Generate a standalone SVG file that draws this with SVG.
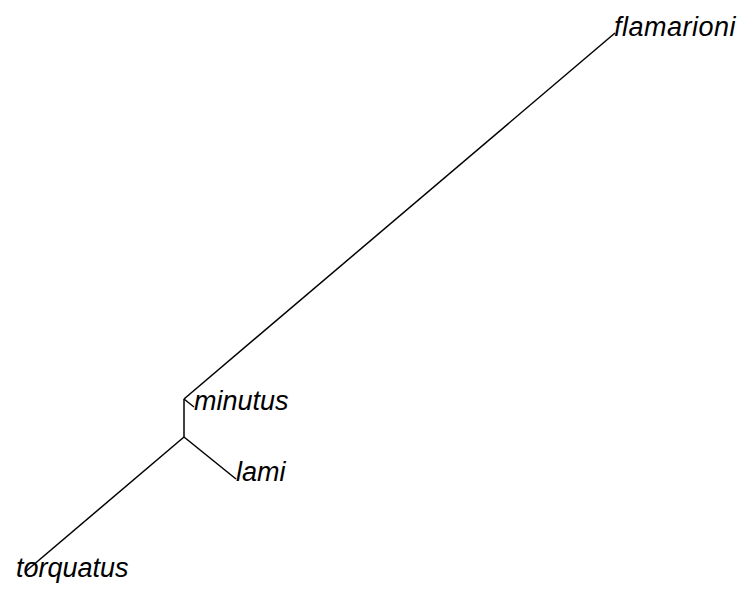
<svg xmlns="http://www.w3.org/2000/svg" width="744" height="590" viewBox="0 0 744 590">
<style>
.e{stroke:#000;stroke-width:1.5;fill:none}
.t{font-family:"Liberation Sans",Arial,sans-serif;font-style:italic;font-size:27px;fill:#000}
</style>
<rect width="744" height="590" fill="#fff"/>
<g id="edges">
<line class="e" x1="184" y1="399" x2="615" y2="33"/>
<line class="e" x1="184" y1="399" x2="194" y2="407"/>
<line class="e" x1="184" y1="399" x2="184" y2="437"/>
<line class="e" x1="184" y1="437" x2="236" y2="479"/>
<line class="e" x1="184" y1="437" x2="25" y2="572"/>
</g>
<g id="flamarioni"><text class="t" x="614" y="36" letter-spacing="0.5">flamarioni</text></g>
<g id="minutus"><text class="t" x="194" y="410">minutus</text></g>
<g id="lami"><text class="t" x="236" y="481">lami</text></g>
<g id="torquatus"><text class="t" x="16" y="577">torquatus</text></g>
</svg>
